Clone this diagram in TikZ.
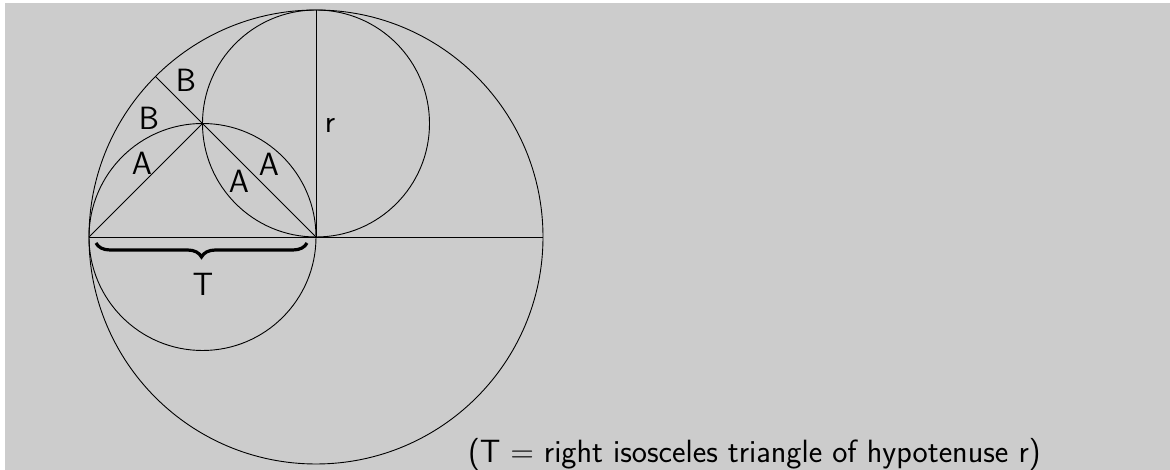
\RequirePackage{fix-cm}
\documentclass[tikz,border=0pt]{standalone}
\usetikzlibrary{decorations.pathreplacing,calc}
\definecolor{bg}{HTML}{CCCCCC}
\begin{document}
\begin{tikzpicture}[x=1pt,y=1pt,
  geo/.style={line width=0.9pt,black},
  lbl/.style={font=\sffamily\fontsize{32.2}{38}\selectfont,inner sep=0pt}]
\useasboundingbox (0,0) rectangle (1170,470);
\fill[white] (0,0) rectangle (1170,470);
\fill[bg] (5,0) rectangle (1170,467);
\def\R{227}
\coordinate (O) at (316,233);
\coordinate (L) at ($(O)+(-\R,0)$);
\coordinate (Rt) at ($(O)+(\R,0)$);
\coordinate (Top) at ($(O)+(0,\R)$);
\coordinate (P) at ($(O)+(-\R/2,\R/2)$);
\coordinate (Q) at ($(O)+(135:\R)$);
\coordinate (Cu) at ($(O)+(0,\R/2)$);
\coordinate (Cl) at ($(O)+(-\R/2,0)$);
\draw[geo] (O) circle (\R);
\draw[geo] (Cu) circle (\R/2);
\draw[geo] (Cl) circle (\R/2);
\draw[geo] (L) -- (Rt);
\draw[geo] (O) -- (Top);
\draw[geo] (L) -- (P) -- (O);
\draw[geo] (P) -- (Q);
\draw[decorate,decoration={brace,mirror,amplitude=14pt},line width=3.2pt]
  (96,227) -- (307,227);
\node[lbl] (B1) at (186,390) {B};
\node[lbl] (B2) at (149,352) {B};
\node[lbl] (A1) at (142,307) {A};
\node[lbl] (A2) at (239,289) {A};
\node[lbl] (A3) at (269,306) {A};
\node[lbl] (r) at (330,345) {r};
\node[lbl] (T) at (203,186) {T};
\node[lbl,anchor=base west] (cap) at (468,7) {(T $=$ right isosceles triangle of hypotenuse r)};
\end{tikzpicture}
\end{document}
